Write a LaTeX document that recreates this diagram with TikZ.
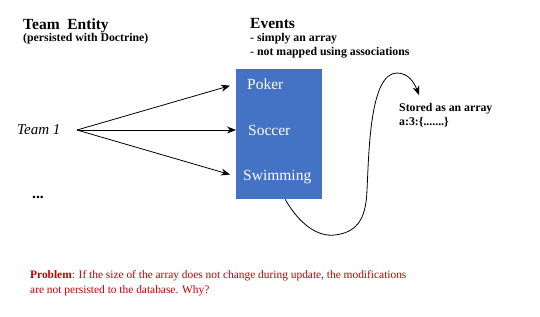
\documentclass[tikz,border=0pt]{standalone}
\usepackage{fontspec}
\setmainfont{Liberation Serif}
\usetikzlibrary{arrows.meta,positioning,calc}
\definecolor{EventBlue}{HTML}{4472C4}
\definecolor{ProblemRed}{HTML}{C00000}

\begin{document}
\begin{tikzpicture}[x=1pt, y=-1pt,
  head/.style={font=\bfseries\fontsize{15.5}{18}\selectfont, anchor=base west, inner sep=0pt},
  note/.style={font=\bfseries\fontsize{11.8}{14}\selectfont, align=left, anchor=base west, inner sep=0pt},
  item/.style={font=\fontsize{15.5}{18}\selectfont, text=white, anchor=base west, inner sep=0pt},
  arrow/.style={-{Stealth[length=9pt, width=7pt]}, thick}
]
\useasboundingbox (0,0) rectangle (540,316);

\node[head] (entity) at (23,29) {Team\ \ Entity};
\node[note] (doctrine) at (23,41) {(persisted with Doctrine)};
\node[head] (events-title) at (250,28) {Events};
\node[note] (events-note) at (250,55) {- simply an array\\- not mapped using associations};

\node[fill=EventBlue, minimum width=86pt, minimum height=130pt, inner sep=0pt, anchor=north west] (events) at (236,69) {};
\node[item] (poker) at (247,89) {Poker};
\node[item] (soccer) at (248,135) {Soccer};
\node[item] (swimming) at (243,180) {Swimming};

\node[font=\itshape\fontsize{15}{18}\selectfont, anchor=base west, inner sep=0pt] (team) at (17,134) {Team 1};
\coordinate (fork) at (77,130);
\node[head] (more) at (32,198) {...};

\draw[arrow] (fork) -- ($(events.west |- poker.west)+(-6,2)$);
\draw[arrow] (fork) -- (events.west |- fork);
\draw[arrow] (fork) -- ($(events.west |- swimming.west)+(-6,-2)$);

\node[note] (stored) at (399,125) {Stored as an array\\a:3:\{.......\}};
\coordinate (tip) at (419,95);
\draw[arrow] ([xshift=6pt]events.south) .. controls (300,225) and (318,237) .. (335,235)
  .. controls (360,232) and (366,215) .. (367,190)
  .. controls (369,150) and (370,73) .. (397,73)
  .. controls (408,73) and (414,82) .. (tip);

\node[font=\fontsize{11.4}{15}\selectfont, text=ProblemRed, align=left, anchor=base west, inner sep=0pt] (problem) at (30,293)
  {\textbf{Problem}: If the size of the array does not change during update, the modifications\\are not persisted to the database. Why?};
\end{tikzpicture}
\end{document}
